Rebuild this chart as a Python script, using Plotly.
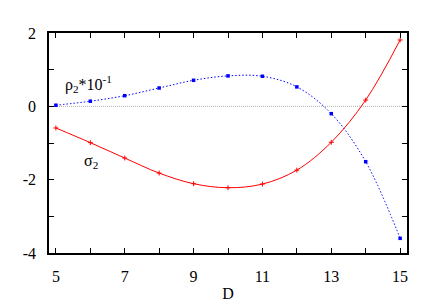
import plotly.graph_objects as go

D = [5, 6, 7, 8, 9, 10, 11, 12, 13, 14, 15]
rho2_scaled = [0.03, 0.14, 0.29, 0.50, 0.71, 0.83, 0.82, 0.53, -0.20, -1.51, -3.60]
sigma2 = [-0.59, -0.99, -1.41, -1.82, -2.11, -2.22, -2.12, -1.74, -0.98, 0.17, 1.81]
x_ticks = [5, 6, 7, 8, 9, 10, 11, 12, 13, 14, 15]
x_labels = ["5", "", "7", "", "9", "", "11", "", "13", "", "15"]
y_ticks = [-4, -3, -2, -1, 0, 1, 2]
y_labels = ["-4", "", "-2", "", "0", "", "2"]

font = "Times New Roman, Liberation Serif, serif"

fig = go.Figure()
fig.add_trace(go.Scatter(x=[4.8, 15.2], y=[0, 0], mode="lines",
                         line=dict(color="#b0b0b0", width=1, dash="1px,1px"),
                         hoverinfo="skip", showlegend=False))
fig.add_trace(go.Scatter(x=D, y=rho2_scaled, mode="lines+markers",
                         line=dict(color="blue", width=1, dash="1.5px,2px", shape="spline"),
                         marker=dict(symbol="square", size=3.5, color="blue"),
                         showlegend=False))
fig.add_trace(go.Scatter(x=D, y=sigma2, mode="lines+markers",
                         line=dict(color="red", width=1, shape="spline"),
                         marker=dict(symbol="cross-thin", size=3.5, color="red",
                                     line=dict(color="red", width=1)),
                         showlegend=False))

axis_common = dict(showgrid=False, zeroline=False, showline=True, linecolor="black",
                   linewidth=1.5, mirror="ticks", ticks="inside", ticklen=5,
                   tickcolor="black", automargin=False,
                   tickfont=dict(family=font, size=16, color="black"))

fig.update_xaxes(range=[4.8, 15.2], tickvals=x_ticks, ticktext=x_labels,
                 ticklabelstandoff=8,
                 title=dict(text="D", font=dict(family=font, size=16, color="black"), standoff=4),
                 **axis_common)
fig.update_yaxes(range=[-4, 2], tickvals=y_ticks, ticktext=y_labels,
                 ticklabelstandoff=8, **axis_common)

fig.add_annotation(x=5.2, y=0.6, xref="x", yref="y", showarrow=False, xanchor="left",
                   text="ρ<sub>2</sub>*10<sup>-1</sup>",
                   font=dict(family=font, size=16, color="black"))
fig.add_annotation(x=5.75, y=-1.5, xref="x", yref="y", showarrow=False, xanchor="left",
                   text="σ<sub>2</sub>",
                   font=dict(family=font, size=16, color="black"))

fig.update_layout(width=436, height=305, margin=dict(l=49, r=29, t=33, b=52, autoexpand=False),
                  font=dict(family=font, size=16, color="black"),
                  plot_bgcolor="white", paper_bgcolor="white")

fig.write_html("out.html", config={"displayModeBar": False},
               post_script="document.body.style.margin='0';document.body.style.overflow='hidden';")
